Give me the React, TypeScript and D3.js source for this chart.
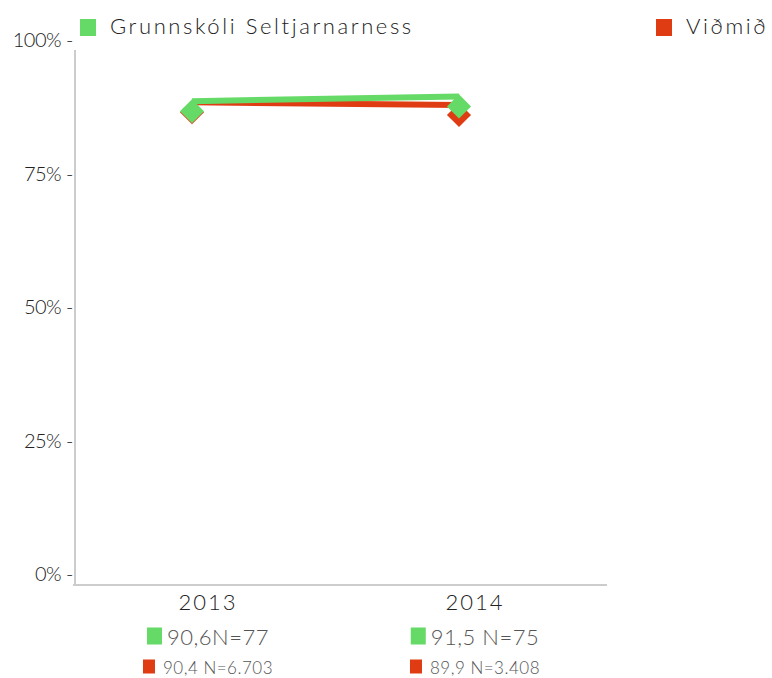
import React, { useRef, useEffect } from 'react';
import * as d3 from 'd3';

const years = ['2013', '2014'];
const schoolValues = [90.6, 91.5];
const benchValues = [90.4, 89.9];
const schoolLabels = ['90,6N=77', '91,5 N=75'];
const benchLabels = ['90,4 N=6.703', '89,9 N=3.408'];
const yTicks = [0, 25, 50, 75, 100];
const seriesNames = ['Grunnskóli Seltjarnarness', 'Viðmið'];

const GREEN = '#66da66';
const RED = '#e03c14';
const FONT = 'Lato, "Open Sans", sans-serif';

const App = () => {
    const svgRef = useRef<SVGSVGElement>(null);

    useEffect(() => {
        const svg = d3.select(svgRef.current);
        svg.selectAll('*').remove();

        const x = d3.scalePoint().domain(years).range([192, 459]);
        const y = d3.scaleLinear().domain([0, 100]).range([585, 51]);

        // axes
        svg.append('line').attr('x1', 75).attr('x2', 75).attr('y1', 50).attr('y2', 586)
            .attr('stroke', '#cccccc').attr('stroke-width', 2);
        svg.append('line').attr('x1', 73).attr('x2', 607).attr('y1', 585).attr('y2', 585)
            .attr('stroke', '#cccccc').attr('stroke-width', 2);

        // y tick labels (drawn a bit above the tick value, like the original)
        svg.selectAll('.ytick').data(yTicks).enter().append('text')
            .attr('x', 73)
            .attr('y', (d) => y(d) - 4)
            .attr('text-anchor', 'end')
            .style('font-family', FONT)
            .style('font-weight', 300)
            .style('font-size', '20px')
            .style('letter-spacing', '-0.5px')
            .attr('fill', '#222')
            .text((d) => d + '% -');

        // x labels
        svg.selectAll('.xlab').data(years).enter().append('text')
            .attr('x', (d) => (x(d) as number) + 16)
            .attr('y', 610)
            .attr('text-anchor', 'middle')
            .style('font-family', FONT)
            .style('font-weight', 300)
            .style('font-size', '22px')
            .style('letter-spacing', '2px')
            .attr('fill', '#222')
            .text((d) => d);

        const series = [
            { name: 'bench', values: benchValues, color: RED },
            { name: 'school', values: schoolValues, color: GREEN },
        ];
        const line = d3.line<number>()
            .x((d, i) => x(years[i]) as number)
            .y((d) => y(d));

        series.forEach((s) => {
            svg.append('path')
                .attr('d', line(s.values))
                .attr('fill', 'none')
                .attr('stroke', s.color)
                .attr('stroke-width', 6);
        });
        // diamonds sit a little below the line ends
        const diamond = d3.symbol().type(d3.symbolSquare).size(290);
        series.forEach((s) => {
            svg.selectAll('.m-' + s.name).data(s.values).enter().append('path')
                .attr('d', diamond())
                .attr('transform', (d, i) => `translate(${x(years[i])},${y(d) + 10}) rotate(45)`)
                .attr('fill', s.color);
        });

        // top legend
        const legend = [
            { label: seriesNames[0], color: GREEN, x: 80 },
            { label: seriesNames[1], color: RED, x: 656 },
        ];
        legend.forEach((l) => {
            svg.append('rect').attr('x', l.x).attr('y', 19).attr('width', 16).attr('height', 17).attr('fill', l.color);
            svg.append('text').attr('x', l.x + 30).attr('y', 34)
                .style('font-family', FONT)
                .style('font-weight', 300)
                .style('font-size', '22px')
                .style('letter-spacing', '2.6px')
                .attr('fill', '#222')
                .text(l.label);
        });

        // stats under each year
        const rows = [
            { labels: schoolLabels, color: GREEN, y: 645, size: 22, box: [15, 17], gap: 5 },
            { labels: benchLabels, color: RED, y: 674, size: 17, box: [12, 14], gap: 8 },
        ];
        rows.forEach((r) => {
            years.forEach((yr, i) => {
                const g = svg.append('g');
                const t = g.append('text')
                    .attr('y', r.y)
                    .style('font-family', FONT)
                    .style('font-weight', 300)
                    .style('font-size', r.size + 'px')
                    .style('letter-spacing', '0.5px')
                    .attr('fill', '#555')
                    .text(r.labels[i]);
                const w = (t.node() as SVGTextElement).getComputedTextLength();
                const total = r.box[0] + r.gap + w;
                const left = (x(yr) as number) + 16 - total / 2;
                g.append('rect').attr('x', left).attr('y', r.y - r.box[1] - 0.5)
                    .attr('width', r.box[0]).attr('height', r.box[1]).attr('fill', r.color);
                t.attr('x', left + r.box[0] + r.gap);
            });
        });
    }, []);

    return (
        <svg ref={svgRef} width={772} height={678}
            style={{ position: 'absolute', left: 0, top: 0, background: '#fff' }} />
    );
};

export default App;
